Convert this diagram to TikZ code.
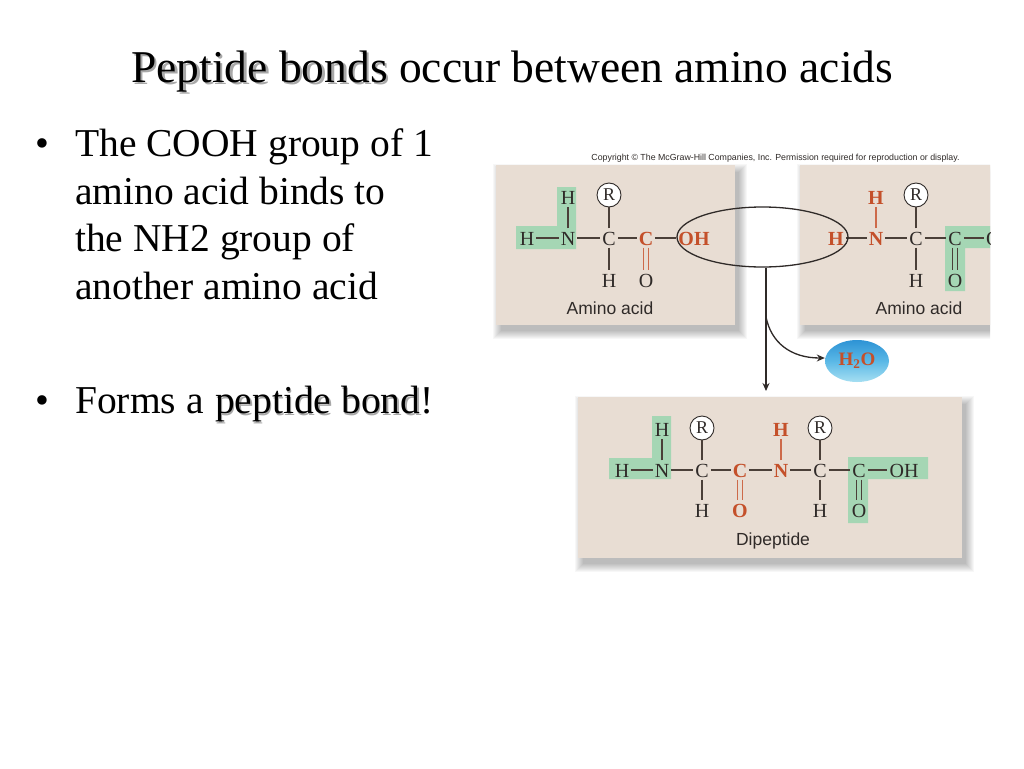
\documentclass[tikz,border=0pt]{standalone}
\usepackage{fontspec}
\setmainfont{Liberation Serif}
\setsansfont{Liberation Sans}
\usetikzlibrary{shapes.geometric,arrows.meta,calc,shadings}
\definecolor{panelc}{HTML}{E8DDD3}
\definecolor{greenc}{HTML}{A5D6B4}
\definecolor{orangec}{HTML}{C4502A}
\definecolor{bondc}{HTML}{4A3F38}
\definecolor{inkc}{HTML}{2F2A28}
\definecolor{wtop}{HTML}{2E93D5}
\definecolor{wmid}{HTML}{5AB8E6}
\definecolor{wbot}{HTML}{A6DFF2}
\tikzset{
 atom/.style={inner sep=2pt,text=inkc,font=\fontsize{20}{22}\selectfont,text height=15pt,text depth=0pt},
 atomo/.style={atom,text=orangec,font=\fontsize{20}{22}\selectfont\bfseries},
 rgroup/.style={circle,draw=inkc,line width=0.9pt,fill=white,minimum size=24pt,inner sep=0pt,text=inkc,font=\fontsize{18}{20}\selectfont},
 bond/.style={draw=bondc,line width=1.3pt},
 bondo/.style={draw=orangec!85!white,line width=1.3pt},
 lab/.style={inner sep=0pt,text=inkc,font=\sffamily\fontsize{17.5}{20}\selectfont},
 panel/.style={fill=panelc,draw=none},
 green/.style={fill=greenc,draw=none},
 title/.style={anchor=base west,inner sep=0pt,text=black,font=\fontsize{45.5}{50}\selectfont},
 body/.style={anchor=base west,inner sep=0pt,text=black,font=\fontsize{39.5}{44}\selectfont},
 shadowtext/.style={text=black!45,opacity=.75},
 flow/.style={draw=inkc,line width=1.3pt,-{Stealth[length=8pt,width=7pt]}},
}
\newcommand{\panelshadow}[4]{%
 \foreach \d in {1,...,9}{%
  \fill[black,opacity=.03] (#1+6-\d,#2+8-\d) rectangle (#3+3+\d,#4+5+\d);}%
}
\begin{document}
\begin{tikzpicture}[x=1pt,y=-1pt]
\useasboundingbox (0,0) rectangle (1024,768);
\fill[white] (0,0) rectangle (1024,768);

% title
\node[title,shadowtext] (titleshade) at (133.5,84.5) {Peptide bonds};
\node[title] (titlea) at (131,82) {Peptide bonds};
\node[title] (titleb) at (399,82) {occur between amino acids};

% body
\node[body] (bu1) at (35,156) {•};
\node[body] (l1) at (75,156) {The COOH group of 1};
\node[body] (l2) at (75,204) {amino acid binds to};
\node[body] (l3) at (75,251) {the NH2 group of};
\node[body] (l4) at (75,299) {another amino acid};
\node[body] (bu2) at (35,413) {•};
\node[body] (l5) at (75,413) {Forms a};
\node[body,shadowtext] (l6s) at (216.5,415) {peptide bond};
\node[body] (l6) at (215,413) {peptide bond};
\node[body] (l7) at (420,413) {!};

\node[inner sep=0pt,text=inkc,font=\sffamily\fontsize{8.8}{11}\selectfont] (copy) at (775.5,158) {Copyright © The McGraw-Hill Companies, Inc. Permission required for reproduction or display.};

% panel 1
\panelshadow{496}{165}{735}{325}
\fill[panel] (496,165) rectangle (735,325);
\fill[green] (516,226) -- (557,226) -- (557,187) -- (576,187) -- (576,249) -- (516,249) -- cycle;
\node[atom] (a1h) at (527,238) {H};
\node[atom] (a1n) at (568,238) {N};
\node[atom] (a1t) at (568,197) {H};
\node[atom] (a1c) at (609,238) {C};
\node[rgroup] (a1r) at (609,195) {R};
\node[atom] (a1b) at (609,280) {H};
\node[atomo] (a1k) at (646,238) {C};
\node[atom] (a1o) at (646,280) {O};
\node[atomo] (a1x) at (694,238) {OH};
\draw[bond] (a1h)--(a1n); \draw[bond] (a1n)--(a1t); \draw[bond] (a1n)--(a1c);
\draw[bond] (a1c)--(a1r); \draw[bond] (a1c)--(a1b); \draw[bond] (a1c)--(a1k);
\draw[bond] (a1k)--(a1x);
\draw[bondo] ([xshift=-2.2pt]a1k.south)--([xshift=-2.2pt]a1o.north);
\draw[bondo] ([xshift=2.2pt]a1k.south)--([xshift=2.2pt]a1o.north);
\node[lab] (a1l) at (610,308) {Amino acid};

% panel 2
\begin{scope}
\clip (0,0) rectangle (990,768);
\panelshadow{800}{165}{1010}{325}
\fill[panel] (800,165) rectangle (1010,325);
\fill[green] (945,226) -- (1000,226) -- (1000,248) -- (965,248) -- (965,291) -- (945,291) -- cycle;
\end{scope}
\node[atomo] (a2h) at (836,238) {H};
\node[atomo] (a2n) at (876,238) {N};
\node[atomo] (a2t) at (876,197) {H};
\node[atom] (a2c) at (916,238) {C};
\node[rgroup] (a2r) at (916,195) {R};
\node[atom] (a2b) at (916,280) {H};
\node[atom] (a2k) at (955,238) {C};
\node[atom] (a2o) at (955,280) {O};
\begin{scope}
\clip (0,0) rectangle (990,768);
\node[atom,anchor=west] (a2x) at (984,238) {OH};
\draw[bond] (a2k)--(a2x);
\end{scope}
\draw[bond] (a2h)--(a2n); \draw[bondo] (a2n)--(a2t); \draw[bond] (a2n)--(a2c);
\draw[bond] (a2c)--(a2r); \draw[bond] (a2c)--(a2b); \draw[bond] (a2c)--(a2k);
\draw[bond] ([xshift=-2.2pt]a2k.south)--([xshift=-2.2pt]a2o.north);
\draw[bond] ([xshift=2.2pt]a2k.south)--([xshift=2.2pt]a2o.north);
\node[lab] (a2l) at (919,308) {Amino acid};

% panel 3
\panelshadow{578}{397}{962}{558}
\fill[panel] (578,397) rectangle (962,558);
\fill[green] (609,458) -- (652,458) -- (652,416) -- (671,416) -- (671,479) -- (609,479) -- cycle;
\fill[green] (848,457) -- (928,457) -- (928,479) -- (868,479) -- (868,523) -- (848,523) -- cycle;
\node[atom] (d1) at (622,470) {H};
\node[atom] (d2) at (662,470) {N};
\node[atom] (d2t) at (662,429) {H};
\node[atom] (d3) at (702,470) {C};
\node[rgroup] (d3r) at (702,428) {R};
\node[atom] (d3b) at (702,510) {H};
\node[atomo] (d4) at (740,470) {C};
\node[atomo] (d4o) at (740,510) {O};
\node[atomo] (d5) at (781,470) {N};
\node[atomo] (d5t) at (781,429) {H};
\node[atom] (d6) at (820,470) {C};
\node[rgroup] (d6r) at (820,428) {R};
\node[atom] (d6b) at (820,510) {H};
\node[atom] (d7) at (859,470) {C};
\node[atom] (d7o) at (859,510) {O};
\node[atom] (d8) at (904,470) {OH};
\draw[bond] (d1)--(d2); \draw[bond] (d2)--(d2t); \draw[bond] (d2)--(d3);
\draw[bond] (d3)--(d3r); \draw[bond] (d3)--(d3b); \draw[bond] (d3)--(d4);
\draw[bond] (d4)--(d5); \draw[bondo] (d5)--(d5t); \draw[bond] (d5)--(d6);
\draw[bond] (d6)--(d6r); \draw[bond] (d6)--(d6b); \draw[bond] (d6)--(d7);
\draw[bond] (d7)--(d8);
\draw[bondo] ([xshift=-2.2pt]d4.south)--([xshift=-2.2pt]d4o.north);
\draw[bondo] ([xshift=2.2pt]d4.south)--([xshift=2.2pt]d4o.north);
\draw[bond] ([xshift=-2.2pt]d7.south)--([xshift=-2.2pt]d7o.north);
\draw[bond] ([xshift=2.2pt]d7.south)--([xshift=2.2pt]d7o.north);
\node[lab] (d9) at (773,541) {Dipeptide};

% ellipse, arrows, water
\node[ellipse,draw=inkc,line width=1.3pt,minimum width=171pt,minimum height=60pt,inner sep=0pt] (water) at (762.5,237) {};
\node[ellipse,minimum width=64pt,minimum height=42pt,inner sep=0pt,top color=wtop,bottom color=wbot,middle color=wmid,text=orangec,font=\fontsize{19}{20}\selectfont\bfseries] (h2o) at (857,361) {H\textsubscript{2}O};
\coordinate (tip) at (766,391);
\coordinate (branch) at (766,317);
\draw[flow] (water.south -| tip) -- (tip);
\draw[flow] (branch) .. controls (771,342) and (790,358) .. ([yshift=3pt]h2o.west);
\end{tikzpicture}
\end{document}
